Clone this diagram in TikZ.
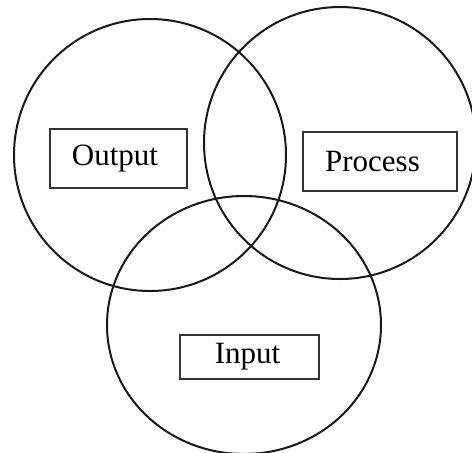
\documentclass[tikz,border=0pt]{standalone}
\usepackage{fontspec}
\setmainfont{Liberation Serif}
\begin{document}
\begin{tikzpicture}[x=1pt,y=-1pt,
  ring/.style={draw=black!90,line width=2pt},
  label box/.style={draw=black!80,line width=1.7pt,fill=white,inner sep=0pt,
    font=\fontsize{31}{36}\selectfont,anchor=center}]
  \useasboundingbox (0,0) rectangle (472,453);
  % three overlapping rings
  \draw[ring] (150,155) circle (136);
  \draw[ring] (340,143) circle (136);
  \draw[ring] (244,325) ellipse [x radius=137, y radius=129];
  % labelled boxes (trailing space nudges the words a little left)
  \node[label box,minimum width=137pt,minimum height=59pt] (output) at (118.5,158.5) {Output\hspace*{7pt}};
  \node[label box,minimum width=154pt,minimum height=59pt] (process) at (380,161.5) {Process\hspace*{15pt}};
  \node[label box,minimum width=139pt,minimum height=44pt] (input) at (249.5,357) {Input\hspace*{4pt}};
\end{tikzpicture}
\end{document}
